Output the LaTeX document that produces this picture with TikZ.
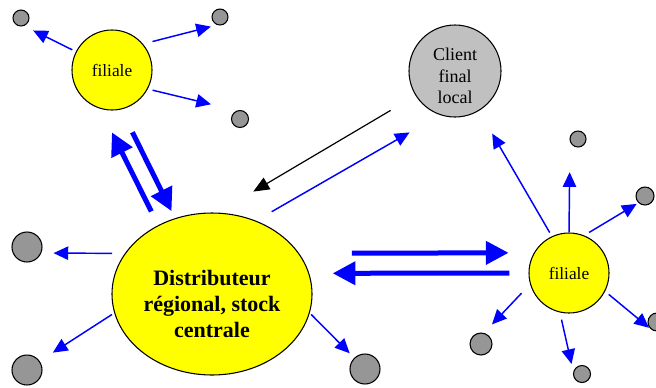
\documentclass[tikz,border=0pt]{standalone}
\usepackage{fontspec}
\setmainfont{Liberation Serif}
\usetikzlibrary{shapes.geometric,arrows.meta}

\begin{document}
\begin{tikzpicture}[x=0.75pt,y=0.75pt,yscale=-1,
	yel/.style={circle,draw,line width=0.8pt,fill={rgb, 255:red, 255; green, 255; blue, 0 },inner sep=0pt,minimum size=60pt,font=\fontsize{13}{15}\selectfont},
	gry/.style={circle,draw,line width=0.8pt,fill={rgb, 255:red, 150; green, 150; blue, 150 },inner sep=0pt,minimum size=#1},
	flow/.style={color={rgb, 255:red, 0; green, 0; blue, 255 },line width=1.1pt,-{Triangle[length=11pt,width=10pt]}},
	bigflow/.style={color={rgb, 255:red, 0; green, 0; blue, 255 },line width=3.75pt,-{Triangle[length=17pt,width=17pt]}},
	backflow/.style={color=black,line width=0.9pt,-{Triangle[length=12pt,width=10pt]}}]
	\useasboundingbox (0,0) rectangle (656,387);
	
	\node [yel] (filA) at (112,70) {filiale};
	\node [gry=12pt] (gA1) at (21,18) {};
	\node [gry=12pt] (gA2) at (220,17) {};
	\node [gry=12.75pt] (gA3) at (240,119) {};
	\node [circle,draw,line width=0.8pt,fill={rgb, 255:red, 192; green, 192; blue, 192 },inner sep=0pt,minimum size=69pt] (client) at (455,71) {};
	\node [align=center,font=\fontsize{13.5}{16.3}\selectfont] (clientT) at (455,76) {Client\\final\\local};
	\node [ellipse,draw,line width=0.8pt,fill={rgb, 255:red, 255; green, 255; blue, 0 },inner sep=0pt,minimum width=150pt,minimum height=121.5pt] (dist) at (212,294) {};
	\node [align=center,font=\bfseries\fontsize{16.5}{19.5}\selectfont] (distT) at (212,304) {Distributeur\\régional, stock\\centrale};
	\node [gry=22.5pt] (gD1) at (27,247) {};
	\node [gry=22.5pt] (gD2) at (27,370) {};
	\node [gry=22.5pt] (gD3) at (365,369) {};
	\node [yel] (filB) at (569,273) {filiale};
	\node [gry=12pt] (gB1) at (578,139) {};
	\node [gry=13.5pt] (gB2) at (645,196) {};
	\node [gry=13.5pt] (gB3) at (657,322) {};
	\node [gry=12.75pt] (gB4) at (582,374) {};
	\node [gry=16.5pt] (gB5) at (481,344) {};
	
	\draw [flow,shorten <=3pt,shorten >=7.6pt] (filA.153) -- (gA1.291);
	\draw [flow,shorten <=7.3pt,shorten >=4.8pt] (filA.40) -- (gA2.250);
	\draw [flow,shorten <=3.7pt,shorten >=20pt] (filA.-28) -- (gA3.110);
	
	\draw [flow,shorten <=9.6pt,shorten >=9.2pt] (dist.155) -- (gD1.337);
	\draw [flow,shorten <=2pt,shorten >=11.7pt] (dist.191) -- (gD2.35);
	\draw [flow,shorten <=1.5pt,shorten >=4.8pt] (dist.349) -- (gD3.134);
	\draw [flow,shorten <=13.5pt,shorten >=26.2pt] (dist.59) -- (client.251);
	\draw [backflow,shorten <=21.7pt,shorten >=31pt] (client.212) -- (dist.86);
	
	\draw [bigflow,shorten <=11.5pt,shorten >=19.8pt] (dist.128) -- (filA.253);
	\draw [bigflow,shorten <=19pt,shorten >=5.9pt] (filA.283) -- (dist.116);
	\draw [bigflow,shorten <=39.6pt,shorten >=19pt] (dist.25) -- (filB.150);
	\draw [bigflow,shorten <=14.3pt,shorten >=17.6pt] (filB.180) -- (dist.12);
	
	\draw [flow,shorten <=3.2pt,shorten >=19.7pt] (filB.115) -- (client.301);
	\draw [flow,shorten >=22.7pt] (filB.90) -- (gB1.200);
	\draw [flow,shorten <=4.3pt,shorten >=1.5pt] (filB.68) -- (gB2.226);
	\draw [flow,shorten <=3.5pt,shorten >=2.5pt] (filB.-27) -- (gB3.236);
	\draw [flow,shorten <=5.5pt,shorten >=5.9pt] (filB.257) -- (gB4.165);
	\draw [flow,shorten <=9.3pt,shorten >=8.7pt] (filB.196) -- (gB5.75);
\end{tikzpicture}
\end{document}
